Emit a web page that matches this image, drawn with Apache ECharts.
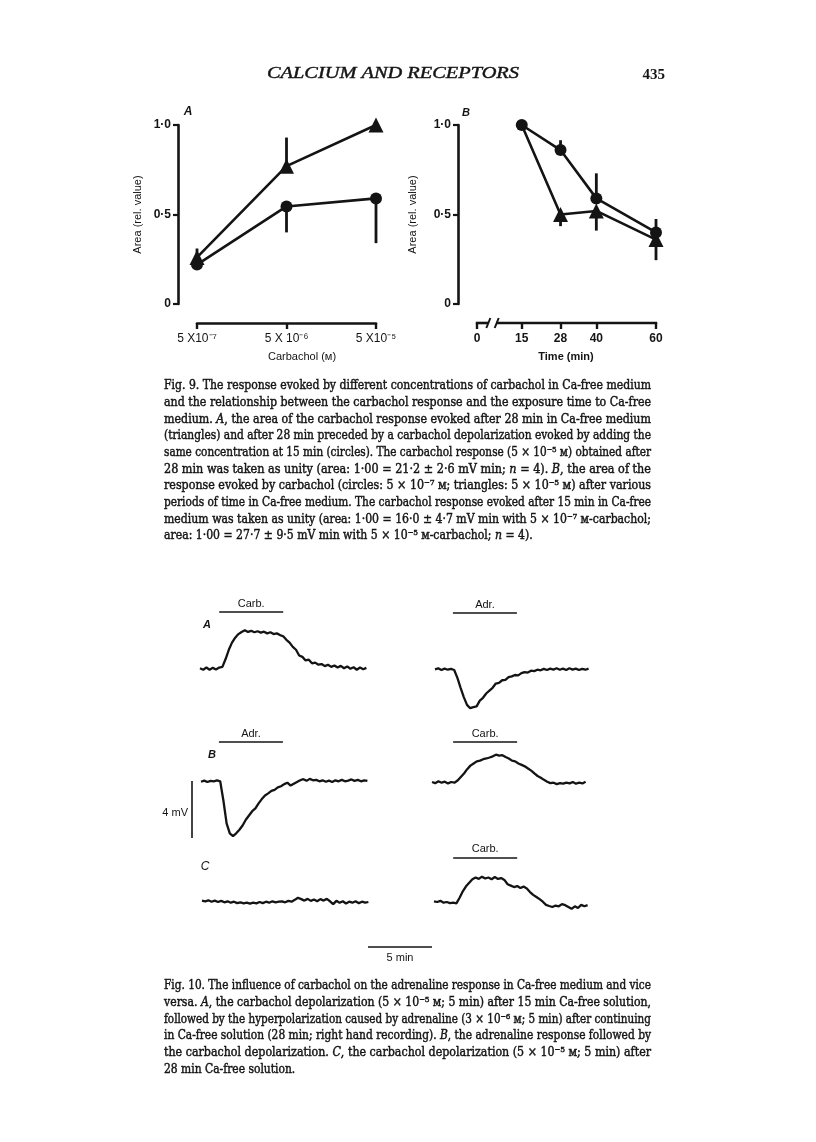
<!DOCTYPE html>
<html><head><meta charset="utf-8">
<script src="https://cdn.jsdelivr.net/npm/echarts@6.0.0/dist/echarts.min.js"></script>
<style>html,body{margin:0;padding:0;background:#fff}#c{width:816px;height:1142px}</style>
</head><body><div id="c"></div>
<script>
// ---------------- DATA ----------------
// Fig. 9A
const concLabels = ['5 X10⁻⁷', '5 X 10⁻⁶', '5 X10⁻⁵'];
const triA = [0.26, 0.77, 1.0];
const triAErrHigh = [0.31, 0.93, null];
const circA = [0.22, 0.545, 0.59];
const circAErrLow = [null, 0.40, 0.34];
// Fig. 9B
const timesB = [15, 28, 40, 60];
const timeTicks = [0, 15, 28, 40, 60];
const circB = [1.0, 0.86, 0.59, 0.40];
const circBErrHigh = [null, 0.915, 0.73, 0.475];
const triB = [1.0, 0.50, 0.52, 0.36];
const triBErrLow = [null, 0.435, 0.41, 0.245];
const yTicks = [0, 0.5, 1.0];
const yTickLabels = ['0', '0·5', '1·0'];
// Fig. 10 recordings (mV relative to baseline, one sample every 0.25 min)
const traceACarb = [0.05,-0.05,0.1,-0.05,0.08,-0.03,0.1,0.15,0.7,1.35,1.85,2.2,2.45,2.6,2.72,2.6,2.68,2.58,2.65,2.55,2.62,2.5,2.58,2.45,2.5,2.38,2.3,2.05,1.85,1.55,1.35,0.95,0.85,0.6,0.65,0.4,0.45,0.3,0.35,0.2,0.3,0.15,0.25,0.1,0.22,0.05,0.18,0.02,0.12,-0.05,0.1,-0.02,0.08];
const traceAAdr = [0.05,0.12,0.0,0.1,0.02,0.08,0.0,-0.55,-1.25,-1.9,-2.45,-2.68,-2.6,-2.55,-2.15,-1.95,-1.65,-1.45,-1.25,-0.95,-0.9,-0.72,-0.7,-0.5,-0.45,-0.35,-0.38,-0.22,-0.15,-0.18,-0.05,-0.08,0.02,-0.02,0.08,0.0,0.1,0.03,0.12,0.02,0.1,0.0,0.12,0.03,0.1,0.0,0.08,0.02,0.1];
const traceBAdr = [0.02,0.1,0.0,0.08,0.05,0.12,0.05,-1.3,-2.9,-3.6,-3.8,-3.6,-3.35,-3.05,-2.65,-2.35,-2.05,-1.85,-1.5,-1.2,-0.95,-0.8,-0.62,-0.55,-0.38,-0.3,-0.15,-0.05,-0.25,-0.12,0.0,0.12,0.2,0.08,0.22,0.12,0.15,0.05,0.12,0.02,0.1,0.0,0.12,0.05,0.15,0.05,0.1,0.18,0.08,0.15,0.05,0.12,0.08];
const traceBCarb = [0.0,-0.08,0.05,-0.05,0.02,-0.1,0.0,-0.05,0.1,0.35,0.6,0.9,1.15,1.3,1.45,1.5,1.6,1.65,1.72,1.8,1.92,1.85,1.88,1.75,1.65,1.5,1.45,1.3,1.2,1.1,0.95,0.8,0.6,0.42,0.3,0.15,0.02,-0.08,-0.05,-0.15,-0.08,-0.12,-0.05,-0.1,0.0,-0.12,-0.05,-0.1,0.02];
const traceCNone = [0.1,0.05,0.12,0.02,0.1,0.0,0.08,-0.02,0.05,-0.05,0.02,-0.08,-0.02,-0.1,-0.05,-0.12,-0.05,-0.1,0.0,-0.08,0.02,-0.05,0.05,-0.02,0.02,0.05,-0.02,0.08,0.02,0.15,0.3,0.2,0.1,0.22,0.08,0.18,0.05,0.2,0.1,0.22,0.05,-0.15,0.08,-0.05,0.05,-0.1,0.02,-0.05,0.05,-0.08,0.02,-0.05,0.0];
const traceCCarb = [0.05,0.0,0.08,-0.05,0.0,-0.08,-0.05,-0.1,0.3,0.75,1.1,1.35,1.6,1.72,1.62,1.78,1.65,1.72,1.6,1.75,1.62,1.68,1.55,1.25,1.15,1.05,1.12,0.98,1.08,0.95,0.7,0.5,0.35,0.2,0.02,-0.2,-0.28,-0.35,-0.25,-0.3,-0.15,-0.22,-0.35,-0.48,-0.3,-0.42,-0.2,-0.3,-0.22];
const sampleStep = 0.25;   // min
const stimDuration = 5;    // min
const scaleBarMv = 4;
const scaleBarMin = 5;

// Caption text
const cap9 = [
 'Fig. 9. The response evoked by different concentrations of carbachol in Ca-free medium',
 'and the relationship between the carbachol response and the exposure time to Ca-free',
 'medium. {i|A}, the area of the carbachol response evoked after 28 min in Ca-free medium',
 '(triangles) and after 28 min preceded by a carbachol depolarization evoked by adding the',
 'same concentration at 15 min (circles). The carbachol response (5 × 10⁻⁵ ᴍ) obtained after',
 '28 min was taken as unity (area: 1·00 = 21·2 ± 2·6 mV min; {i|n} = 4). {i|B}, the area of the',
 'response evoked by carbachol (circles: 5 × 10⁻⁷ ᴍ; triangles: 5 × 10⁻⁵ ᴍ) after various',
 'periods of time in Ca-free medium. The carbachol response evoked after 15 min in Ca-free',
 'medium was taken as unity (area: 1·00 = 16·0 ± 4·7 mV min with 5 × 10⁻⁷ ᴍ-carbachol;',
 'area: 1·00 = 27·7 ± 9·5 mV min with 5 × 10⁻⁵ ᴍ-carbachol; {i|n} = 4).'
];
const cap10 = [
 'Fig. 10. The influence of carbachol on the adrenaline response in Ca-free medium and vice',
 'versa. {i|A}, the carbachol depolarization (5 × 10⁻⁵ ᴍ; 5 min) after 15 min Ca-free solution,',
 'followed by the hyperpolarization caused by adrenaline (3 × 10⁻⁶ ᴍ; 5 min) after continuing',
 'in Ca-free solution (28 min; right hand recording). {i|B}, the adrenaline response followed by',
 'the carbachol depolarization. {i|C}, the carbachol depolarization (5 × 10⁻⁵ ᴍ; 5 min) after',
 '28 min Ca-free solution.'
];

// ---------------- LAYOUT / STYLE ----------------
const INK = '#141414';
const SANS = '"Liberation Sans", Arial, sans-serif';
const SERIF = '"DejaVu Serif", serif';
const HSERIF = '"Liberation Serif", serif';
const PX_MIN = 12.8, PX_MV = 14.25, HALF = 5;
const AX_OFF = 19;

const chart = echarts.init(document.getElementById('c'));

const grids = [
  {left: 197, top: 125, width: 179, height: 179},
  {left: 477, top: 125, width: 179, height: 179}
];
const yAxisCommon = (gi, gap) => ({
  gridIndex: gi, type: 'value', min: 0, max: 1, interval: 0.5, offset: AX_OFF,
  axisLine: {show: true, onZero: false, lineStyle: {color: INK, width: 2.6}},
  axisTick: {show: true, length: 5, lineStyle: {color: INK, width: 2.2}},
  axisLabel: {color: INK, fontFamily: SANS, fontSize: 12, fontWeight: 'bold', margin: 7,
    formatter: v => yTickLabels[yTicks.indexOf(v)] },
  splitLine: {show: false},
  name: 'Area (rel. value)', nameLocation: 'middle', nameGap: gap, nameRotate: 90,
  nameTextStyle: {color: INK, fontFamily: SANS, fontSize: 11}
});
const xAxes = [
  {gridIndex: 0, type: 'category', data: concLabels, boundaryGap: false, offset: AX_OFF,
   axisLine: {show: true, onZero: false, lineStyle: {color: INK, width: 2.6}},
   axisTick: {show: true, length: 6, lineStyle: {color: INK, width: 2.4}},
   axisLabel: {color: INK, fontFamily: SANS, fontSize: 12, margin: 10, interval: 0},
   splitLine: {show: false}},
  {gridIndex: 1, type: 'value', min: 0, max: 60, offset: AX_OFF,
   axisLine: {show: false, onZero: false},
   axisTick: {show: true, length: 6, customValues: timeTicks, lineStyle: {color: INK, width: 2.4}},
   axisLabel: {color: INK, fontFamily: SANS, fontSize: 12, fontWeight: 'bold', margin: 10, customValues: timeTicks},
   splitLine: {show: false}}
];
const yAxes = [yAxisCommon(0, 35), yAxisCommon(1, 40)];

const lineStyle = {color: INK, width: 2.6};
const series = [];
function errSeries(gi, pts) {
  return {type: 'custom', xAxisIndex: gi, yAxisIndex: gi, data: pts, z: 1, silent: true,
    renderItem: (p, api) => {
      const a = api.coord([api.value(0), api.value(1)]);
      const b = api.coord([api.value(0), api.value(2)]);
      return {type: 'line', shape: {x1: a[0], y1: a[1], x2: b[0], y2: b[1]},
              style: {stroke: INK, lineWidth: 2.8}};
    }};
}
// Panel A
series.push({type: 'line', xAxisIndex: 0, yAxisIndex: 0, data: triA, symbol: 'triangle', symbolSize: 15,
  lineStyle, itemStyle: {color: INK}, z: 3});
series.push({type: 'line', xAxisIndex: 0, yAxisIndex: 0, data: circA, symbol: 'circle', symbolSize: 12,
  lineStyle, itemStyle: {color: INK}, z: 3});
series.push(errSeries(0, triA.map((v, i) => triAErrHigh[i] == null ? null : [i, v, triAErrHigh[i]]).filter(Boolean)
  .concat(circA.map((v, i) => circAErrLow[i] == null ? null : [i, v, circAErrLow[i]]).filter(Boolean))));
// Panel B
series.push({type: 'line', xAxisIndex: 1, yAxisIndex: 1,
  data: timesB.map((t, i) => i === 0 ? {value: [t, triB[i]], symbol: 'none'} : [t, triB[i]]),
  symbol: 'triangle', symbolSize: 15, lineStyle, itemStyle: {color: INK}, z: 3});
series.push({type: 'line', xAxisIndex: 1, yAxisIndex: 1, data: timesB.map((t, i) => [t, circB[i]]),
  symbol: 'circle', symbolSize: 12, lineStyle, itemStyle: {color: INK}, z: 4});
series.push(errSeries(1, timesB.map((t, i) => circBErrHigh[i] == null ? null : [t, circB[i], circBErrHigh[i]]).filter(Boolean)
  .concat(timesB.map((t, i) => triBErrLow[i] == null ? null : [t, triB[i], triBErrLow[i]]).filter(Boolean))));
// broken time axis
const BREAK = [3.8, 6.6];
series.push({type: 'custom', xAxisIndex: 1, yAxisIndex: 1, data: [[0, 0]], silent: true,
  renderItem: (p, api) => {
    const y = api.coord([0, 0])[1] + AX_OFF;
    const xa = api.coord([0, 0])[0], xb = api.coord([BREAK[0], 0])[0];
    const xc = api.coord([BREAK[1], 0])[0], xd = api.coord([60, 0])[0];
    const st = {stroke: INK, lineWidth: 2.6};
    const sl = {stroke: INK, lineWidth: 2};
    return {type: 'group', children: [
      {type: 'line', shape: {x1: xa - 1.2, y1: y, x2: xb, y2: y}, style: st},
      {type: 'line', shape: {x1: xb - 2, y1: y + 5, x2: xb + 2, y2: y - 5}, style: sl},
      {type: 'line', shape: {x1: xc - 2, y1: y + 5, x2: xc + 2, y2: y - 5}, style: sl},
      {type: 'line', shape: {x1: xc, y1: y, x2: xd + 1.2, y2: y}, style: st}
    ]};
  }});

// Fig. 10 recordings
const traces = [
  {data: traceACarb, x0: 200, base: 669, stim: {start: 1.5, level: 4.0, label: 'Carb.'}},
  {data: traceAAdr,  x0: 435, base: 670, stim: {start: 1.4, level: 4.0, label: 'Adr.'}},
  {data: traceBAdr,  x0: 201, base: 782, stim: {start: 1.4, level: 2.8, label: 'Adr.'}},
  {data: traceBCarb, x0: 432, base: 782, stim: {start: 1.65, level: 2.8, label: 'Carb.'}},
  {data: traceCNone, x0: 202, base: 902, stim: null},
  {data: traceCCarb, x0: 434, base: 902, stim: {start: 1.5, level: 3.1, label: 'Carb.'}}
];
traces.forEach(tr => {
  const gi = grids.length;
  const dur = (tr.data.length - 1) * sampleStep;
  grids.push({left: tr.x0, top: tr.base - HALF * PX_MV, width: dur * PX_MIN, height: 2 * HALF * PX_MV});
  xAxes.push({gridIndex: gi, type: 'value', min: 0, max: dur, show: false});
  yAxes.push({gridIndex: gi, type: 'value', min: -HALF, max: HALF, show: false});
  const s = {type: 'line', xAxisIndex: gi, yAxisIndex: gi, data: tr.data.map((v, i) => [i * sampleStep, v]),
    symbol: 'none', lineStyle: {color: INK, width: 2.3}, silent: true};
  if (tr.stim) {
    s.markLine = {silent: true, symbol: ['none', 'none'], animation: false,
      lineStyle: {color: INK, width: 1.6, type: 'solid'},
      label: {show: true, position: 'insideMiddleTop', formatter: tr.stim.label, color: INK,
              fontFamily: SANS, fontSize: 11, distance: 3},
      emphasis: {disabled: true},
      data: [[{coord: [tr.stim.start, tr.stim.level]}, {coord: [tr.stim.start + stimDuration, tr.stim.level]}]]};
  }
  series.push(s);
});
// calibration bars, each in its own grid at the recordings' scale
const calMv = grids.length;
grids.push({left: 192, top: 781, width: 10, height: scaleBarMv * PX_MV});
xAxes.push({gridIndex: calMv, type: 'value', min: 0, max: 1, show: false});
yAxes.push({gridIndex: calMv, type: 'value', min: 0, max: scaleBarMv, show: false});
series.push({type: 'line', xAxisIndex: calMv, yAxisIndex: calMv, symbol: 'none', silent: true, clip: false,
  data: [[0, 0], [0, scaleBarMv]], lineStyle: {color: INK, width: 1.6}});
const calMin = grids.length;
grids.push({left: 368, top: 937, width: scaleBarMin * PX_MIN, height: 10});
xAxes.push({gridIndex: calMin, type: 'value', min: 0, max: scaleBarMin, show: false});
yAxes.push({gridIndex: calMin, type: 'value', min: 0, max: 1, show: false});
series.push({type: 'line', xAxisIndex: calMin, yAxisIndex: calMin, symbol: 'none', silent: true, clip: false,
  data: [[0, 0], [scaleBarMin, 0]], lineStyle: {color: INK, width: 1.6}});

// ---------------- TEXT ----------------
const cv = document.createElement('canvas').getContext('2d');
function segs(line) {
  const out = []; const re = /\{i\|([^}]*)\}/g; let last = 0, m;
  while ((m = re.exec(line))) { if (m.index > last) out.push({t: line.slice(last, m.index), it: false}); out.push({t: m[1], it: true}); last = re.lastIndex; }
  if (last < line.length) out.push({t: line.slice(last), it: false});
  return out;
}
const CAP_SIZE = 12.2, CAP_LEFT = 164, CAP_RIGHT = 651, LEAD = 16.67;
function measure(line) {
  let w = 0;
  for (const s of segs(line)) { cv.font = (s.it ? 'italic ' : '') + CAP_SIZE + 'px ' + SERIF; w += cv.measureText(s.t).width; }
  return w;
}
function captionGraphics(lines, y0) {
  const target = CAP_RIGHT - CAP_LEFT;
  const scales = lines.map(l => target / measure(l));
  const avg = scales.slice(0, -1).reduce((a, b) => a + b, 0) / (scales.length - 1);
  return lines.map((l, k) => ({type: 'text', x: CAP_LEFT, y: y0 + k * LEAD,
    scaleX: k === lines.length - 1 ? Math.min(avg, scales[k]) : scales[k], silent: true,
    style: {text: l, fill: INK, stroke: INK, lineWidth: 0.45, fontSize: CAP_SIZE, fontFamily: SERIF, align: 'left', verticalAlign: 'middle',
      rich: {i: {fontStyle: 'italic', fontSize: CAP_SIZE, fontFamily: SERIF, fill: INK, stroke: INK, lineWidth: 0.45}}}}));
}
function t(x, y, text, o) {
  return {type: 'text', x, y, silent: true, style: Object.assign({text, fill: INK, fontSize: 11, fontFamily: SANS,
    align: 'center', verticalAlign: 'middle'}, o || {})};
}
const header = 'CALCIUM AND RECEPTORS';
cv.font = 'italic 16px ' + HSERIF;
const headerScale = 252 / cv.measureText(header).width;

const graphic = [
  {type: 'text', x: 393, y: 74, scaleX: headerScale, silent: true,
   style: {text: header, fill: INK, stroke: INK, lineWidth: 0.4, fontSize: 16, fontStyle: 'italic', fontFamily: HSERIF, align: 'center', verticalAlign: 'middle'}},
  t(665, 75, '435', {fontSize: 15, fontFamily: HSERIF, fontWeight: 'bold', align: 'right'}),
  t(188, 112, 'A', {fontStyle: 'italic', fontWeight: 'bold', fontSize: 12}),
  t(466, 113, 'B', {fontStyle: 'italic', fontWeight: 'bold', fontSize: 11}),
  t(302, 357, 'Carbachol (ᴍ)', {fontSize: 11}),
  t(566, 357, 'Time (min)', {fontSize: 11, fontWeight: 'bold'}),
  t(207, 625, 'A', {fontStyle: 'italic', fontWeight: 'bold', fontSize: 11}),
  t(212, 755, 'B', {fontStyle: 'italic', fontWeight: 'bold', fontSize: 11}),
  t(205, 867, 'C', {fontStyle: 'italic', fontSize: 12}),
  t(188, 813, '4 mV', {align: 'right', fontSize: 11}),
  t(400, 958, '5 min', {fontSize: 11})
].concat(captionGraphics(cap9, 386), captionGraphics(cap10, 986));

chart.setOption({
  backgroundColor: '#fff', animation: false,
  grid: grids, xAxis: xAxes, yAxis: yAxes, series, graphic
});
</script></body></html>
